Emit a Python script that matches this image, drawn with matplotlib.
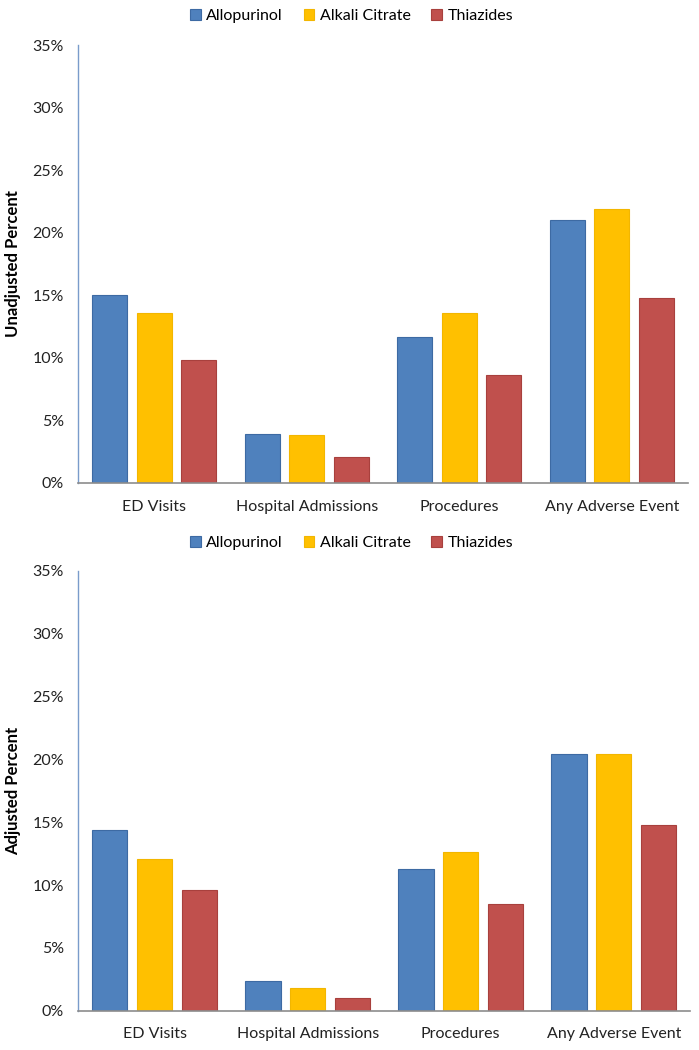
import matplotlib
matplotlib.use("Agg")
import matplotlib.pyplot as plt
import numpy as np
from matplotlib.ticker import FuncFormatter

plt.rcParams['font.family'] = ['Lato', 'DejaVu Sans']

categories = ["ED Visits", "Hospital Admissions", "Procedures", "Any Adverse Event"]
series_names = ["Allopurinol", "Alkali Citrate", "Thiazides"]
colors = ["#4F81BD", "#FFC000", "#C0504D"]
edges = ["#3D6AA3", "#F2B600", "#A8403D"]

# unadjusted percent (top chart)
allopurinol_unadj = [15.0, 3.9, 11.7, 21.0]
citrate_unadj = [13.6, 3.8, 13.6, 21.9]
thiazides_unadj = [9.8, 2.1, 8.6, 14.8]

# adjusted percent (bottom chart)
allopurinol_adj = [14.4, 2.4, 11.3, 20.4]
citrate_adj = [12.1, 1.8, 12.6, 20.4]
thiazides_adj = [9.6, 1.0, 8.5, 14.8]

yticks = [0, 5, 10, 15, 20, 25, 30, 35]


def draw_panel(ax, data, ylabel, legend_y, fig):
    x = np.arange(len(categories))
    width = 0.23
    step = 0.292
    for i, vals in enumerate(data):
        ax.bar(x + (i - 1) * step, vals, width, color=colors[i],
               edgecolor=edges[i], linewidth=0.8, label=series_names[i])
    ax.set_xlim(-0.5, len(categories) - 0.5)
    ax.set_ylim(0, 35)
    ax.set_yticks(yticks)
    ax.yaxis.set_major_formatter(FuncFormatter(lambda v, p: f"{int(v)}%"))
    ax.set_xticks(x)
    ax.set_xticklabels(categories)
    ax.tick_params(axis='both', length=0, labelsize=11.5, colors="#222222")
    ax.tick_params(axis='y', pad=10)
    ax.tick_params(axis='x', pad=12)
    for s in ["top", "right"]:
        ax.spines[s].set_visible(False)
    ax.spines["left"].set_color("#7A9CCB")
    ax.spines["left"].set_linewidth(1.0)
    ax.spines["bottom"].set_color("#8C8C8C")
    ax.spines["bottom"].set_linewidth(1.2)
    ax.set_ylabel(ylabel, fontsize=12, fontweight="bold", labelpad=8)
    handles, labels = ax.get_legend_handles_labels()
    fig.legend(handles, labels, loc="center", bbox_to_anchor=(0.503, legend_y),
               ncol=3, frameon=False, fontsize=11.5, handlelength=0.65,
               handleheight=0.65, handletextpad=0.35, columnspacing=1.3)


fig = plt.figure(figsize=(6.99, 10.5), dpi=100)
ax1 = fig.add_axes([0.1116, 0.54, 0.8727, 0.4171])
ax2 = fig.add_axes([0.1116, 0.0374, 0.876, 0.4188])

draw_panel(ax1, [allopurinol_unadj, citrate_unadj, thiazides_unadj],
           "Unadjusted Percent", 0.9848, fig)
draw_panel(ax2, [allopurinol_adj, citrate_adj, thiazides_adj],
           "Adjusted Percent", 0.4829, fig)

fig.savefig("out.png", dpi=100)
